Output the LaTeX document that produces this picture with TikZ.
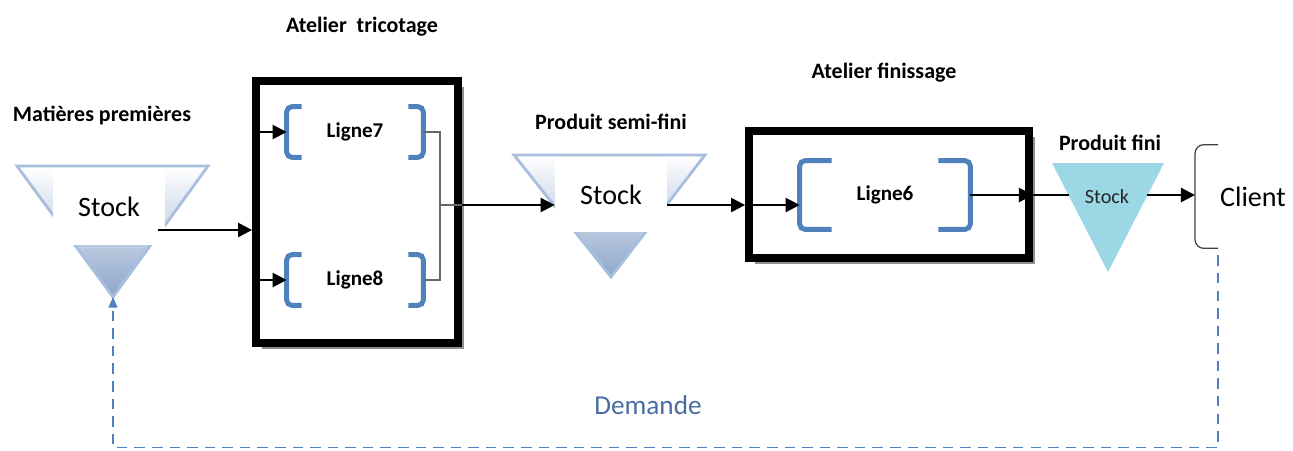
\documentclass[tikz,border=0pt]{standalone}
\usepackage{fontspec}
\setmainfont{Carlito}
\definecolor{LineBlue}{HTML}{4F81BD}
\definecolor{DemandeBlue}{HTML}{4A6CA3}
\definecolor{StockEdge}{HTML}{A7BFDD}
\definecolor{StockDark}{HTML}{8DA7CA}
\definecolor{StockCyan}{HTML}{9CD7E6}
\usepackage{tikz}
\usetikzlibrary{arrows.meta,shadows}
\newcommand{\fs}[1]{\fontsize{#1}{#1}\selectfont}

\begin{document}
\begin{tikzpicture}[x=0.02cm,y=-0.02cm,
		atelier/.style={draw,line width=4.5pt,fill=white,
			drop shadow={shadow xshift=3.5pt,shadow yshift=-3.5pt,fill=black!55,opacity=.8}},
		ligne/.style={inner sep=0pt,font=\fs{12}\bfseries},
		bracket/.style={draw=LineBlue,line width=2.8pt,rounded corners=3pt},
		stocklbl/.style={fill=white,inner sep=0pt,font=\fs{16}},
		title/.style={font=\fs{12.5}\bfseries},
		flow/.style={line width=1.3pt,-{Triangle[length=8pt,width=8pt]}},
		link/.style={line width=1.3pt},
		merge/.style={draw=black!60,line width=0.7pt},
		demande/.style={draw=LineBlue,line width=0.9pt,dash pattern=on 6pt off 4pt,
			-{Triangle[length=6pt,width=5pt]}}
	]
	\useasboundingbox (0,0) rectangle (1293,450);

	% stocks
	\fill[top color=white,bottom color=StockDark,draw=StockEdge,line width=1.6pt]
		(17,166) -- (208,166) -- (113,297) -- cycle;
	\fill[top color=white,bottom color=StockDark,draw=StockEdge,line width=1.6pt]
		(514,155) -- (705,155) -- (611,277) -- cycle;
	\fill[StockCyan] (1052,163) -- (1164,163) -- (1108,272) -- cycle;
	\coordinate (a1) at (113,297);

	\node[stocklbl,minimum width=2.24cm,minimum height=1.52cm] (s1) at (109,207) {Stock};
	\node[stocklbl,minimum width=2.24cm,minimum height=1.48cm] (s2) at (611,195) {Stock};
	\node[inner sep=1pt,font=\fs{11.5},text=black!85] (s3) at (1107,197) {Stock};

	% ateliers
	\node[atelier,minimum width=4.04cm,minimum height=5.24cm] (box1) at (357,212) {};
	\node[atelier,minimum width=5.6cm,minimum height=2.54cm] (box2) at (889,194.5) {};

	\node[ligne,minimum width=2.72cm,minimum height=1cm] (l7) at (355,132) {Ligne7};
	\node[ligne,minimum width=2.72cm,minimum height=1cm] (l8) at (355,280) {Ligne8};
	\node[ligne,minimum width=3.4cm,minimum height=1.36cm] (l6) at (885,195) {Ligne6};
	\foreach \n/\arm in {l7/15,l8/15,l6/32}{
		\draw[bracket] (\n.north west) ++(\arm,0) -- ++(-\arm,0) -- (\n.south west) -- ++(\arm,0);
		\draw[bracket] (\n.north east) ++(-\arm,0) -- ++(\arm,0) -- (\n.south east) -- ++(-\arm,0);
	}

	% titles
	\node[title] (t1) at (102,116) {Matières premières};
	\node[title] (t2) at (362,27) {Atelier\ \ tricotage};
	\node[title] (t3) at (611,122) {Produit semi-fini};
	\node[title] (t4) at (884,73) {Atelier finissage};
	\node[title] (t5) at (1110,143) {Produit fini};

	% client
	\node[anchor=west,minimum height=2.06cm,inner sep=1pt,font=\fs{16}] (cl) at (1218,196.5) {Client};
	\coordinate (cb) at (1195,195);
	\draw[black!75,line width=0.7pt,rounded corners=5pt] (cl.north west) -| (cb) |- (cl.south west);

	% flux
	\coordinate (s1out) at (158,230);
	\coordinate (mj) at (440,205);
	\coordinate (t3l) at (1069,195);
	\coordinate (t3r) at (1147,195);
	\draw[flow] (s1out) -- (s1out -| box1.west);
	\draw[flow] (l7.west -| box1.west) -- (l7.west);
	\draw[flow] (l8.west -| box1.west) -- (l8.west);
	\draw[merge] (l7.east) -| (mj) |- (l8.east);
	\draw[merge] (mj) -- (mj -| box1.east);
	\draw[flow] (mj -| box1.east) -- (mj -| s2.west);
	\draw[flow] (mj -| s2.east) -- (mj -| box2.west);
	\draw[flow] (mj -| box2.west) -- (mj -| l6.west);
	\draw[flow] (l6.east) -- (l6.east -| box2.east);
	\draw[link] (l6.east -| box2.east) -- (t3l);
	\draw[flow] (t3r) -- (cb);

	% demande
	\draw[demande] ([yshift=-4pt]cl.south west) -- ++(0,192) -| (a1);
	\node[text=DemandeBlue,font=\fs{15.5}] (dem) at (648,405) {Demande};
\end{tikzpicture}
\end{document}
